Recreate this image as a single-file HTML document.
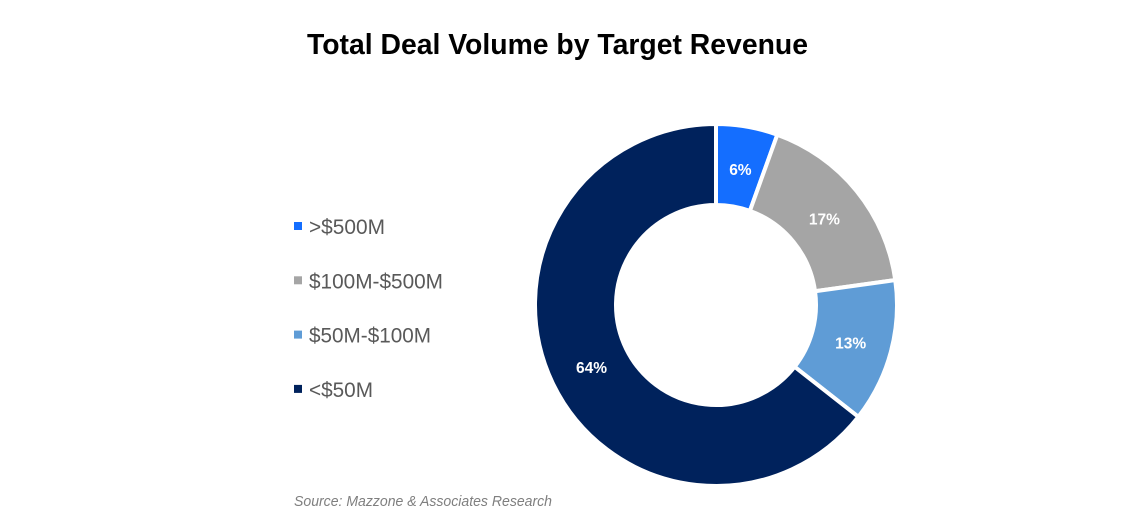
<!DOCTYPE html>
<html lang="en">
<head>
<meta charset="utf-8">
<title>Total Deal Volume by Target Revenue</title>
<style>
html,body{margin:0;padding:0;background:#fff;width:1124px;height:526px;overflow:hidden}
svg{display:block;font-family:"Liberation Sans",sans-serif}
</style>
</head>
<body>
<svg id="chart" width="1124" height="526" viewBox="0 0 1124 526" xmlns="http://www.w3.org/2000/svg">
  <text x="307" y="54" font-size="29" font-weight="700" fill="#000" textLength="501" lengthAdjust="spacingAndGlyphs">Total Deal Volume by Target Revenue</text>
  <g id="slices"></g>
  <g id="labels"></g>
  <g id="legend"></g>
  <text x="294" y="506" font-size="15" font-style="italic" fill="#7f7f7f" textLength="258" lengthAdjust="spacingAndGlyphs">Source: Mazzone &amp; Associates Research</text>
</svg>
<script>
const categories = ['>$500M', '$100M-$500M', '$50M-$100M', '<$50M'];
const shares = [5.5, 17.3, 12.8, 64.4];
const printedLabels = ['6%', '17%', '13%', '64%'];
const colors = ['#146eff', '#a5a5a5', '#5f9cd6', '#00225c'];

const NS = 'http://www.w3.org/2000/svg';
const cx = 716, cy = 305, outerR = 181, innerR = 100, labelR = 139;
const legendX = 294, legendTextX = 309, legendTop = 227, legendStep = 54.3;
const legendCharWidth = { 0: 76, 1: 134, 2: 122, 3: 64 };
const total = shares.reduce(function (a, b) { return a + b; }, 0);

function angleOf(cum) { return (cum / total) * 2 * Math.PI - Math.PI / 2; }
function px(r, a) { return cx + r * Math.cos(a); }
function py(r, a) { return cy + r * Math.sin(a); }

const sliceGroup = document.getElementById('slices');
const labelGroup = document.getElementById('labels');
const legendGroup = document.getElementById('legend');

let cum = 0;
shares.forEach(function (v, i) {
  const a0 = angleOf(cum);
  const a1 = angleOf(cum + v);
  const mid = (a0 + a1) / 2;
  const large = a1 - a0 > Math.PI ? 1 : 0;
  const d = 'M' + px(outerR, a0) + ' ' + py(outerR, a0) +
    'A' + outerR + ' ' + outerR + ' 0 ' + large + ' 1 ' + px(outerR, a1) + ' ' + py(outerR, a1) +
    'L' + px(innerR, a1) + ' ' + py(innerR, a1) +
    'A' + innerR + ' ' + innerR + ' 0 ' + large + ' 0 ' + px(innerR, a0) + ' ' + py(innerR, a0) + 'Z';

  const path = document.createElementNS(NS, 'path');
  path.setAttribute('d', d);
  path.setAttribute('fill', colors[i]);
  path.setAttribute('stroke', '#fff');
  path.setAttribute('stroke-width', '4');
  
  
  sliceGroup.appendChild(path);

  const label = document.createElementNS(NS, 'text');
  label.textContent = printedLabels[i];
  label.setAttribute('x', px(labelR, mid) + 0.5);
  label.setAttribute('y', py(labelR, mid) + 7);
  label.setAttribute('text-anchor', 'middle');
  label.setAttribute('font-size', '15.5');
  label.setAttribute('font-weight', '700');
  label.setAttribute('fill', '#fff');
  
  
  labelGroup.appendChild(label);

  const y = legendTop + i * legendStep;

  const swatch = document.createElementNS(NS, 'rect');
  swatch.setAttribute('x', legendX);
  swatch.setAttribute('y', y - 5);
  swatch.setAttribute('width', '8');
  swatch.setAttribute('height', '8');
  swatch.setAttribute('fill', colors[i]);
  
  
  legendGroup.appendChild(swatch);

  const entry = document.createElementNS(NS, 'text');
  entry.textContent = categories[i];
  entry.setAttribute('x', legendTextX);
  entry.setAttribute('y', y + 7);
  entry.setAttribute('font-size', '21');
  entry.setAttribute('fill', '#595959');
  entry.setAttribute('textLength', legendCharWidth[i]);
  entry.setAttribute('lengthAdjust', 'spacingAndGlyphs');
  
  
  legendGroup.appendChild(entry);

  cum += v;
});
</script>
</body>
</html>
